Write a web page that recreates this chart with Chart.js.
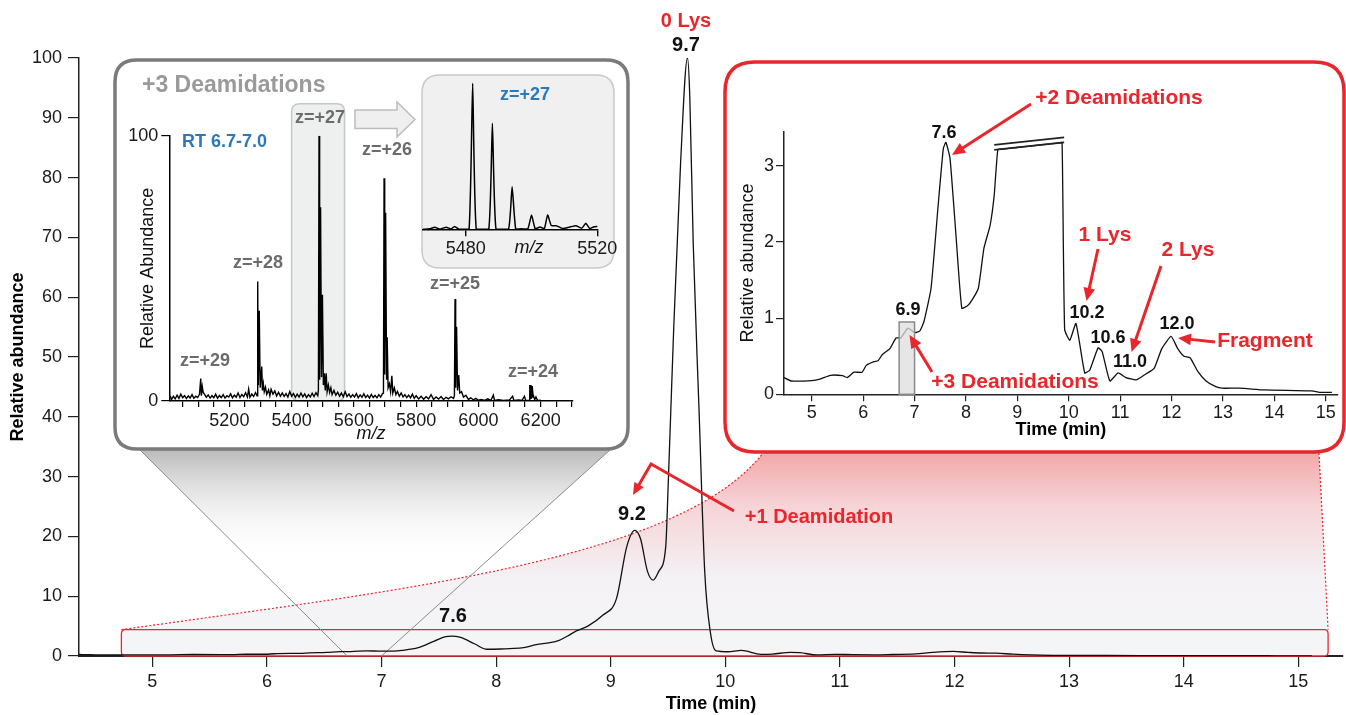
<!DOCTYPE html>
<html>
<head>
<meta charset="utf-8">
<script src="https://cdn.jsdelivr.net/npm/chart.js@4.4.1/dist/chart.umd.min.js"></script>
<style>
  html, body { margin: 0; padding: 0; background: #fff; }
  #wrap { position: relative; width: 1346px; height: 715px; overflow: hidden; }
  #wrap canvas { position: absolute; left: 0; top: 0; }
</style>
</head>
<body>
<div id="wrap">
  <canvas id="main" width="1346" height="715"></canvas>
  <canvas id="spec" width="1346" height="715"></canvas>
  <canvas id="iso" width="1346" height="715"></canvas>
  <canvas id="zoom" width="1346" height="715"></canvas>
</div>
<script>
const F = "'Liberation Sans', Arial, Helvetica, sans-serif";
const RED = '#e8262b';
const BLUE = '#2b79b9';
const ZGRAY = '#6b6b6b';

// chromatogram (main trace, also shown in the zoomed inset)
const timeMin = [4.36, 4.46, 4.6, 5.0, 5.16, 5.36, 5.6, 5.69, 5.82, 5.98, 6.06, 6.21, 6.29, 6.37, 6.52, 6.64,
  6.73, 6.87, 7.0, 7.1, 7.18, 7.32, 7.46, 7.56, 7.61, 7.69, 7.81, 7.92, 8.04, 8.12, 8.24, 8.35, 8.47, 8.55,
  8.62, 8.7, 8.8, 8.93, 9.05, 9.14, 9.21, 9.26, 9.32, 9.37, 9.42, 9.48, 9.5, 9.55, 9.61, 9.67, 9.69, 9.72,
  9.77, 9.82, 9.87, 9.92, 10.02, 10.14, 10.31, 10.41, 10.57, 10.65, 10.8, 10.96, 11.11, 11.31, 11.46, 11.66,
  11.81, 11.99, 12.12, 12.24, 12.36, 12.51, 12.67, 12.86, 12.98, 13.33, 13.8, 14.73, 14.88, 15.12];
const abundance = [0.25, 0.22, 0.175, 0.18, 0.2, 0.25, 0.245, 0.22, 0.29, 0.29, 0.38, 0.43, 0.44, 0.52, 0.6, 0.74,
  0.74, 0.87, 0.81, 0.83, 0.95, 1.39, 2.49, 3.23, 3.31, 3.1, 2.05, 1.13, 1.17, 1.24, 1.39, 1.92, 2.22, 2.62,
  3.3, 4.2, 5.0, 6.8, 9.6, 18.3, 21, 19.6, 14.2, 12.7, 14.2, 18.3, 27.8, 55, 82.6, 100, 93.5, 68.9,
  41.5, 14.2, 3.9, 0.85, 0.71, 0.93, 0.28, 0.32, 0.61, 0.56, 0.175, 0.28, 0.22, 0.19, 0.25, 0.34,
  0.6, 0.76, 0.6, 0.5, 0.48, 0.3, 0.175, 0.1, 0.08, 0.08, 0.057, 0.044, 0.026, 0.026];
const timeTicks = [5, 6, 7, 8, 9, 10, 11, 12, 13, 14, 15];
const abundanceTicks = [0, 10, 20, 30, 40, 50, 60, 70, 80, 90, 100];
const zoomTicks = [0, 1, 2, 3];

// mass spectrum, RT 6.7-7.0
const specMz = [5010, 5014, 5020, 5026, 5032, 5038, 5044, 5050, 5056, 5062, 5068, 5074, 5080, 5086, 5092, 5098,
  5104, 5108, 5110, 5113, 5116, 5120, 5126, 5132, 5138, 5144, 5150, 5156, 5162, 5168, 5174, 5180, 5186, 5192,
  5198, 5204, 5210, 5216, 5222, 5228, 5234, 5240, 5246, 5252, 5258, 5262, 5266, 5272, 5278, 5284, 5289, 5291,
  5293, 5296, 5299, 5304, 5306, 5309, 5312, 5316, 5320, 5326, 5330, 5334, 5340, 5346, 5352, 5358, 5364, 5370,
  5376, 5382, 5388, 5394, 5400, 5406, 5412, 5418, 5424, 5430, 5436, 5442, 5448, 5454, 5460, 5466, 5472, 5478,
  5484, 5486, 5488, 5490, 5493, 5496, 5499, 5502, 5505, 5508, 5511, 5514, 5518, 5522, 5526, 5530, 5536, 5542,
  5548, 5554, 5560, 5566, 5572, 5578, 5584, 5590, 5596, 5602, 5608, 5614, 5620, 5626, 5632, 5638, 5644, 5650,
  5656, 5662, 5668, 5674, 5680, 5686, 5692, 5695, 5697, 5699, 5702, 5705, 5707, 5710, 5714, 5718, 5722, 5725,
  5730, 5735, 5740, 5746, 5752, 5758, 5764, 5770, 5776, 5782, 5788, 5794, 5800, 5808, 5816, 5824, 5832, 5840,
  5848, 5856, 5864, 5872, 5880, 5888, 5896, 5904, 5912, 5920, 5923, 5925, 5927, 5930, 5933, 5937, 5940, 5946,
  5952, 5960, 5968, 5976, 5984, 5992, 6000, 6010, 6020, 6030, 6040, 6048, 6052, 6065, 6080, 6100, 6110, 6114,
  6130, 6140, 6148, 6152, 6163, 6165, 6167, 6169, 6171, 6173, 6176, 6178, 6181, 6185, 6190, 6200];
const specAbund = [2, 0.5, 1.8, 0.8, 2.2, 1, 2.6, 1.2, 2, 0.9, 1.9, 1.1, 2.4, 1, 1.8, 1.3,
  2.5, 8.5, 2, 5.4, 3.2, 2.6, 1.4, 2.3, 1.1, 2, 1.2, 2.6, 1, 2.1, 1.3, 2.4, 1.1, 2,
  1.5, 2.7, 1.2, 2.2, 1.4, 3, 1.3, 2.5, 1.6, 3.1, 1.5, 4.5, 1.4, 2.6, 1.7, 3.2, 2, 45,
  6, 34, 5, 13, 4, 6.6, 3.5, 5.2, 2.5, 4.2, 2, 4.4, 2.6, 3.8, 1.9, 3.3, 1.8, 3,
  1.7, 2.8, 1.5, 3.6, 1.8, 2.8, 1.4, 2.6, 1.5, 3, 1.6, 2.7, 1.3, 2.4, 1.5, 2.9, 1.7, 3.1,
  2, 4, 100, 8, 73, 9, 40, 6, 10.4, 4, 10.4, 3.5, 6, 3.2, 5, 2.4, 4, 2.2,
  3.3, 1.8, 3, 1.6, 3.5, 1.7, 2.6, 1.4, 2.4, 1.5, 2.8, 1.2, 2.3, 1.4, 2.7, 1.3, 2.2, 1.1,
  2.5, 1.3, 2.1, 1.2, 2.4, 1.5, 2.8, 3, 84, 10, 71, 8, 24, 5, 6.5, 3.5, 9.5, 3,
  5, 2.4, 3.6, 1.8, 3, 1.5, 2.4, 1.3, 2.2, 1.2, 2.6, 1, 2, 0.8, 1.8, 0.7, 1.6, 0.8,
  2.4, 0.6, 1.5, 0.7, 1.7, 0.6, 1.4, 0.8, 1.6, 1, 2, 38.4, 5, 28, 4, 9.8, 3, 3.5,
  1.5, 2.2, 0.6, 1.2, 0.4, 1, 0.3, 0.6, 0.2, 0.8, 0.2, 2.2, 0.2, 0.5, 0.2, 0.4, 1.8, 0.2,
  0.4, 0.2, 1.8, 0.2, 0.3, 6, 1, 6, 1, 5.6, 1.5, 1.6, 0.5, 1.5, 0.2, 0.3];
const mzLabels = [5200, 5400, 5600, 5800, 6000, 6200];
const specTicksY = [0, 100];

// z=+27 isotope cluster
const isoMz = [5467, 5469, 5470.6, 5472, 5474.1, 5475.5, 5476.6, 5478, 5481, 5482.1, 5483.2, 5487, 5488.1, 5489.2,
  5493, 5494.1, 5495.2, 5497, 5498.9, 5500, 5501.1, 5502.6, 5503.9, 5504.9, 5506, 5507.5, 5509.5, 5511.5,
  5513.5, 5515.3, 5516.5, 5517.7, 5519, 5520];
const isoAbund = [0, 0.3, 1.4, 0.2, 1.4, 0.2, 2, 0, 0, 100, 0, 0, 72.6, 0,
  0, 29.2, 0, 0.3, 0.5, 9.8, 0.5, 1.5, 0.5, 9.8, 2.5, 2.5, 0.5, 1.5,
  2.5, 0.8, 4.1, 0.5, 1.8, 2];
const isoTicks = [5480, 5520];

// windows linking the panels
const zoomWindow = [4.73, 15.26];
const zoomTop = 4.4;
const specWindow = [6.7, 7.0];
const specHighlight = [5400, 5570];
const insetMark = [6.7, 7.0, 0.95];
const breakLow = [[8.55, 3.21], [9.91, 3.31]];

function rrect(ctx, x, y, w, h, r) {
  ctx.beginPath();
  ctx.moveTo(x + r, y);
  ctx.lineTo(x + w - r, y);
  ctx.quadraticCurveTo(x + w, y, x + w, y + r);
  ctx.lineTo(x + w, y + h - r);
  ctx.quadraticCurveTo(x + w, y + h, x + w - r, y + h);
  ctx.lineTo(x + r, y + h);
  ctx.quadraticCurveTo(x, y + h, x, y + h - r);
  ctx.lineTo(x, y + r);
  ctx.quadraticCurveTo(x, y, x + r, y);
  ctx.closePath();
}

function label(ctx, s, x, y, size, color, weight, align, style) {
  ctx.save();
  ctx.font = `${style || 'normal'} ${weight || 'bold'} ${size}px ${F}`;
  ctx.fillStyle = color;
  ctx.textAlign = align || 'center';
  ctx.textBaseline = 'middle';
  ctx.fillText(s, x, y);
  ctx.restore();
}

function arrow(ctx, pts, color, lw, head) {
  const n = pts.length;
  const [x2, y2] = pts[n - 1];
  const [x1, y1] = pts[n - 2];
  const a = Math.atan2(y2 - y1, x2 - x1);
  const c = Math.cos(a), s = Math.sin(a);
  ctx.save();
  ctx.strokeStyle = color;
  ctx.fillStyle = color;
  ctx.lineWidth = lw;
  ctx.beginPath();
  ctx.moveTo(pts[0][0], pts[0][1]);
  for (let i = 1; i < n - 1; i++) ctx.lineTo(pts[i][0], pts[i][1]);
  ctx.lineTo(x2 - c * head * 0.8, y2 - s * head * 0.8);
  ctx.stroke();
  ctx.beginPath();
  ctx.moveTo(x2, y2);
  ctx.lineTo(x2 - head * c + head * 0.45 * s, y2 - head * s - head * 0.45 * c);
  ctx.lineTo(x2 - head * c - head * 0.45 * s, y2 - head * s + head * 0.45 * c);
  ctx.closePath();
  ctx.fill();
  ctx.restore();
}

function fixedTicks(list) {
  return scale => { scale.ticks = list.map(v => ({ value: v })); };
}

const base = {
  responsive: false,
  animation: false,
  events: [],
  devicePixelRatio: 1,
  plugins: { legend: { display: false }, tooltip: { enabled: false } }
};

// ---------- main chromatogram ----------
const mainDeco = {
  id: 'mainDeco',
  beforeDatasetsDraw(chart) {
    const { ctx, scales: { x, y } } = chart;
    const L = x.getPixelForValue(zoomWindow[0]), R = x.getPixelForValue(zoomWindow[1]);
    const T = y.getPixelForValue(zoomTop), B = y.getPixelForValue(0);
    ctx.save();
    // pink funnel to the zoomed inset
    const g = ctx.createLinearGradient(0, 453, 0, T);
    g.addColorStop(0, 'rgb(243,168,170)');
    g.addColorStop(0.3, 'rgb(246,212,215)');
    g.addColorStop(0.7, 'rgb(244,241,244)');
    g.addColorStop(1, 'rgb(244,245,247)');
    ctx.beginPath();
    ctx.moveTo(L, T);
    ctx.bezierCurveTo(400, 590, 680, 560, 763, 453);
    ctx.lineTo(1319, 453);
    ctx.lineTo(R, T);
    ctx.closePath();
    ctx.fillStyle = g;
    ctx.fill();
    ctx.setLineDash([2, 2]);
    ctx.strokeStyle = RED;
    ctx.lineWidth = 1.2;
    ctx.beginPath();
    ctx.moveTo(L, T);
    ctx.bezierCurveTo(400, 590, 680, 560, 763, 453);
    ctx.stroke();
    ctx.beginPath();
    ctx.moveTo(1319, 453);
    ctx.lineTo(R, T);
    ctx.stroke();
    ctx.setLineDash([]);
    rrect(ctx, L, T, R - L, B - T, 4);
    ctx.fillStyle = 'rgb(244,245,247)';
    ctx.fill();
    ctx.lineWidth = 1.3;
    ctx.stroke();
    // gray funnel to the mass spectrum
    const a = x.getPixelForValue(specWindow[0]), b = x.getPixelForValue(specWindow[1]);
    const gg = ctx.createLinearGradient(0, 449, 0, 560);
    gg.addColorStop(0, 'rgba(185,185,185,1)');
    gg.addColorStop(1, 'rgba(255,255,255,0)');
    ctx.beginPath();
    ctx.moveTo(139, 449);
    ctx.lineTo(611, 449);
    ctx.lineTo(b, B);
    ctx.lineTo(a, B);
    ctx.closePath();
    ctx.fillStyle = gg;
    ctx.fill();
    ctx.strokeStyle = '#8a8a8a';
    ctx.lineWidth = 1;
    ctx.beginPath();
    ctx.moveTo(139, 449);
    ctx.lineTo(a, B);
    ctx.moveTo(611, 449);
    ctx.lineTo(b, B);
    ctx.stroke();
    ctx.restore();
  },
  afterDraw(chart) {
    const ctx = chart.ctx;
    ctx.save();
    rrect(ctx, 115, 60, 513, 389, 22);
    ctx.fillStyle = '#fff';
    ctx.fill();
    ctx.strokeStyle = '#7b7b7b';
    ctx.lineWidth = 3.5;
    ctx.stroke();
    rrect(ctx, 725, 62, 619, 390, 30);
    ctx.fillStyle = '#fff';
    ctx.fill();
    ctx.strokeStyle = RED;
    ctx.stroke();
    ctx.restore();
    label(ctx, '0 Lys', 686, 21, 20, RED);
    label(ctx, '9.7', 686, 45, 20, '#111');
    label(ctx, '9.2', 632, 514, 20, '#111');
    label(ctx, '7.6', 453, 616, 20, '#111');
    label(ctx, '+1 Deamidation', 819, 517, 20, RED);
    arrow(ctx, [[734, 511], [651, 464], [633, 495]], RED, 3, 12);
  }
};

new Chart(document.getElementById('main'), {
  type: 'line',
  data: {
    datasets: [{
      data: timeMin.map((t, i) => ({ x: t, y: abundance[i] })),
      borderColor: '#111',
      borderWidth: 1.3,
      pointRadius: 0,
      cubicInterpolationMode: 'monotone'
    }]
  },
  options: {
    ...base,
    layout: { padding: { left: 0, top: 58, right: 3, bottom: 0 } },
    scales: {
      x: {
        type: 'linear', min: 4.36, max: 15.39,
        afterFit: s => { s.height = 59; },
        afterBuildTicks: fixedTicks(timeTicks),
        grid: { drawOnChartArea: false, tickLength: 11, color: '#222', lineWidth: 1.2 },
        border: { color: '#222', width: 2 },
        ticks: { font: { family: F, size: 18 }, color: '#1a1a1a', padding: 4, maxRotation: 0 },
        title: { display: true, text: 'Time (min)', color: '#000', font: { family: F, size: 18, weight: 'bold' }, padding: { top: 0, bottom: 0 } }
      },
      y: {
        min: 0, max: 100,
        afterFit: s => { s.width = 79; },
        afterBuildTicks: fixedTicks(abundanceTicks),
        grid: { drawOnChartArea: false, tickLength: 11, color: '#222', lineWidth: 1.2 },
        border: { color: '#222', width: 1.5 },
        ticks: { font: { family: F, size: 18 }, color: '#1a1a1a', padding: 6 },
        title: { display: true, text: 'Relative abundance', color: '#000', font: { family: F, size: 18, weight: 'bold' }, padding: { top: 7, bottom: 0 } }
      }
    }
  },
  plugins: [mainDeco]
});

// ---------- mass spectrum inset ----------
const specDeco = {
  id: 'specDeco',
  beforeDraw(chart) {
    const { ctx, scales: { x, y } } = chart;
    const a = x.getPixelForValue(specHighlight[0]), b = x.getPixelForValue(specHighlight[1]);
    const top = y.getPixelForValue(112), bot = y.getPixelForValue(0);
    ctx.save();
    rrect(ctx, a, top, b - a, bot - top, 8);
    ctx.fillStyle = '#eef0ef';
    ctx.fill();
    ctx.strokeStyle = '#c6c6c6';
    ctx.lineWidth = 1.5;
    ctx.stroke();
    // block arrow towards the isotope zoom
    ctx.beginPath();
    ctx.moveTo(355, 110);
    ctx.lineTo(397, 110);
    ctx.lineTo(397, 102);
    ctx.lineTo(415, 119.5);
    ctx.lineTo(397, 137);
    ctx.lineTo(397, 128.5);
    ctx.lineTo(355, 128.5);
    ctx.closePath();
    ctx.fillStyle = '#eeefee';
    ctx.fill();
    ctx.strokeStyle = '#bdbdbd';
    ctx.stroke();
    ctx.restore();
  },
  afterDraw(chart) {
    const ctx = chart.ctx;
    label(ctx, '+3 Deamidations', 142, 86, 23, '#9a9a9a', 'bold', 'left');
    label(ctx, 'RT 6.7-7.0', 182, 142, 18, BLUE, 'bold', 'left');
    label(ctx, 'z=+27', 320, 118, 18, ZGRAY);
    label(ctx, 'z=+26', 387, 150, 18, ZGRAY);
    label(ctx, 'z=+28', 258, 263, 18, ZGRAY);
    label(ctx, 'z=+25', 455, 284, 18, ZGRAY);
    label(ctx, 'z=+29', 205, 361, 18, ZGRAY);
    label(ctx, 'z=+24', 533, 372, 18, ZGRAY);
  }
};

new Chart(document.getElementById('spec'), {
  type: 'line',
  data: {
    datasets: [{
      data: specMz.map((m, i) => ({ x: m, y: specAbund[i] })),
      borderColor: '#000',
      borderWidth: 1.4,
      pointRadius: 0,
      tension: 0
    }]
  },
  options: {
    ...base,
    layout: { padding: { left: 129.3, top: 135.7, right: 773.3, bottom: 270 } },
    scales: {
      x: {
        type: 'linear', min: 5007, max: 6303,
        afterFit: s => { s.height = 44; },
        grid: { drawOnChartArea: false, tickLength: 6, color: '#000', lineWidth: 1.2 },
        border: { color: '#000', width: 1.5 },
        ticks: {
          stepSize: 50, includeBounds: false, autoSkip: false, maxRotation: 0,
          font: { family: F, size: 18 }, color: '#1a1a1a', padding: 3,
          callback: v => (mzLabels.includes(v) ? String(v) : '')
        },
        title: { display: true, text: 'm/z', color: '#111', font: { family: F, size: 18, style: 'italic' }, padding: { top: 0, bottom: 0 } }
      },
      y: {
        min: 0, max: 100,
        afterFit: s => { s.width = 40; },
        afterBuildTicks: fixedTicks(specTicksY),
        grid: { drawOnChartArea: false, tickLength: 8, color: '#000', lineWidth: 1.2 },
        border: { color: '#000', width: 1.5 },
        ticks: { font: { family: F, size: 18 }, color: '#1a1a1a', padding: 3 },
        title: { display: true, text: 'Relative Abundance', color: '#111', font: { family: F, size: 18 }, padding: { top: 8, bottom: 0 } }
      }
    }
  },
  plugins: [specDeco]
});

// ---------- z=+27 isotope inset ----------
const isoDeco = {
  id: 'isoDeco',
  beforeDraw(chart) {
    const ctx = chart.ctx;
    ctx.save();
    rrect(ctx, 422, 75, 192, 193, 18);
    ctx.fillStyle = '#eff0ef';
    ctx.fill();
    ctx.strokeStyle = '#c9c9c9';
    ctx.lineWidth = 1.5;
    ctx.stroke();
    ctx.restore();
  },
  afterDraw(chart) {
    const ctx = chart.ctx;
    label(ctx, 'z=+27', 525, 95, 18, BLUE);
    label(ctx, 'm/z', 529, 248, 18, '#111', 'normal', 'center', 'italic');
  }
};

new Chart(document.getElementById('iso'), {
  type: 'line',
  data: {
    datasets: [{
      data: isoMz.map((m, i) => ({ x: m, y: isoAbund[i] })),
      borderColor: '#000',
      borderWidth: 1.5,
      pointRadius: 0,
      tension: 0.15,
      clip: 4
    }]
  },
  options: {
    ...base,
    layout: { padding: { left: 423, top: 83.3, right: 748.7, bottom: 445.7 } },
    scales: {
      x: {
        type: 'linear', min: 5467, max: 5520,
        afterFit: s => { s.height = 40; },
        afterBuildTicks: fixedTicks(isoTicks),
        grid: { drawOnChartArea: false, tickLength: 7, color: '#000', lineWidth: 1.4 },
        border: { color: '#000', width: 1.5 },
        ticks: { font: { family: F, size: 18 }, color: '#1a1a1a', padding: 2, maxRotation: 0, callback: v => String(v) }
      },
      y: { min: 0, max: 100, display: false }
    }
  },
  plugins: [isoDeco]
});

// ---------- zoomed chromatogram inset ----------
const capAt = t => breakLow[0][1] + (t - breakLow[0][0]) * (breakLow[1][1] - breakLow[0][1]) / (breakLow[1][0] - breakLow[0][0]);

const zoomDeco = {
  id: 'zoomDeco',
  afterDatasetsDraw(chart) {
    const { ctx, scales: { x, y } } = chart;
    ctx.save();
    const a = x.getPixelForValue(insetMark[0]), b = x.getPixelForValue(insetMark[1]);
    const top = y.getPixelForValue(insetMark[2]), bot = y.getPixelForValue(0);
    ctx.fillStyle = 'rgba(222,222,222,0.75)';
    ctx.fillRect(a, top, b - a, bot - top);
    ctx.strokeStyle = '#8a8a8a';
    ctx.lineWidth = 1.5;
    ctx.strokeRect(a, top, b - a, bot - top);
    // axis-break marks above the clipped 0 Lys peak
    ctx.strokeStyle = '#222';
    ctx.lineWidth = 1.8;
    [0, 0.066].forEach(d => {
      ctx.beginPath();
      ctx.moveTo(x.getPixelForValue(breakLow[0][0]), y.getPixelForValue(breakLow[0][1] + d));
      ctx.lineTo(x.getPixelForValue(breakLow[1][0]), y.getPixelForValue(breakLow[1][1] + d));
      ctx.stroke();
    });
    ctx.restore();
  },
  afterDraw(chart) {
    const ctx = chart.ctx;
    label(ctx, '+2 Deamidations', 1119, 98, 21, RED);
    arrow(ctx, [[1031, 104], [952, 155]], RED, 3, 13);
    label(ctx, '7.6', 944, 133, 18, '#111');
    label(ctx, '6.9', 908, 310, 18, '#111');
    label(ctx, '+3 Deamidations', 1015, 382, 21, RED);
    arrow(ctx, [[932, 372], [909.5, 335]], RED, 3, 13);
    label(ctx, '1 Lys', 1105, 235, 21, RED);
    arrow(ctx, [[1098, 249], [1086.5, 301]], RED, 3, 13);
    label(ctx, '10.2', 1087, 313, 18, '#111');
    label(ctx, '10.6', 1108, 338, 18, '#111');
    label(ctx, '11.0', 1130, 362, 18, '#111');
    label(ctx, '2 Lys', 1188, 250, 21, RED);
    arrow(ctx, [[1161, 266], [1131.5, 352]], RED, 3, 13);
    label(ctx, '12.0', 1177, 324, 18, '#111');
    label(ctx, 'Fragment', 1265, 341, 21, RED);
    arrow(ctx, [[1215, 342], [1178, 338]], RED, 3, 13);
  }
};

new Chart(document.getElementById('zoom'), {
  type: 'line',
  data: {
    datasets: [{
      data: timeMin.map((t, i) => {
        const v = abundance[i];
        const inBreak = t > breakLow[0][0] && t < breakLow[1][0];
        return { x: t, y: inBreak && v > capAt(t) ? capAt(t) : v };
      }),
      borderColor: '#111',
      borderWidth: 1.3,
      pointRadius: 0,
      tension: 0.15
    }]
  },
  options: {
    ...base,
    layout: { padding: { left: 734, top: 131.7, right: 8.4, bottom: 270.7 } },
    scales: {
      x: {
        type: 'linear', min: 4.46, max: 15.23,
        afterFit: s => { s.height = 50; },
        afterBuildTicks: fixedTicks(timeTicks),
        grid: { drawOnChartArea: false, tickLength: 7, color: '#222', lineWidth: 1.2 },
        border: { color: '#222', width: 1.5 },
        ticks: { font: { family: F, size: 18 }, color: '#1a1a1a', padding: 1, maxRotation: 0 },
        title: { display: true, text: 'Time (min)', color: '#000', font: { family: F, size: 18, weight: 'bold' }, padding: { top: 0, bottom: 3 } }
      },
      y: {
        min: 0, max: 3.45,
        afterFit: s => { s.width = 50; },
        afterBuildTicks: fixedTicks(zoomTicks),
        grid: { drawOnChartArea: false, tickLength: 8, color: '#222', lineWidth: 1.2 },
        border: { color: '#222', width: 1.5 },
        ticks: { font: { family: F, size: 18 }, color: '#1a1a1a', padding: 2 },
        title: { display: true, text: 'Relative abundance', color: '#111', font: { family: F, size: 18 }, padding: { top: 3, bottom: 0 } }
      }
    }
  },
  plugins: [zoomDeco]
});
</script>
</body>
</html>
